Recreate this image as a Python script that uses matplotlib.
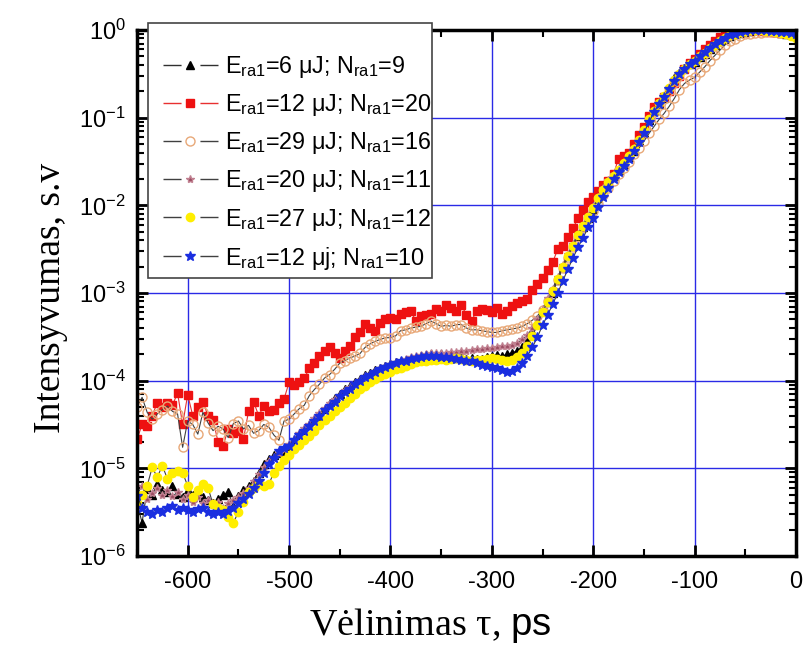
import numpy as np
import matplotlib
matplotlib.use("Agg")
import matplotlib.pyplot as plt
from matplotlib.patches import Rectangle
from matplotlib.ticker import MultipleLocator, LogLocator, NullFormatter

plt.rcParams["font.family"] = ["Liberation Sans", "DejaVu Sans"]
plt.rcParams["mathtext.fontset"] = "custom"
plt.rcParams["mathtext.rm"] = "Liberation Sans"
plt.rcParams["mathtext.it"] = "Liberation Sans:italic"
plt.rcParams["mathtext.bf"] = "Liberation Sans:bold"
plt.rcParams["axes.unicode_minus"] = False

# delay grid, ps (5 ps step)
delay = np.arange(-650, 1, 5)

# log10 of intensity
log_e6_n9 = [
    -5.39, -5.62, -5.24, -5.30, -5.18, -5.25, -5.27, -5.20, -5.29, -5.33,
    -5.25, -5.30, -5.28, -5.33, -5.36, -5.39, -5.35, -5.30, -5.27, -5.43,
    -5.31, -5.25, -5.20, -5.14, -5.05, -4.95, -4.89, -4.85, -4.82, -4.80,
    -4.75, -4.68, -4.62, -4.56, -4.51, -4.45, -4.40, -4.32, -4.25, -4.20,
    -4.15, -4.10, -4.06, -4.02, -3.98, -3.94, -3.91, -3.88, -3.85, -3.83,
    -3.81, -3.79, -3.77, -3.76, -3.75, -3.74, -3.72, -3.71, -3.70, -3.71,
    -3.70, -3.72, -3.72, -3.74, -3.73, -3.75, -3.74, -3.75, -3.75, -3.73,
    -3.72, -3.71, -3.72, -3.70, -3.68, -3.66, -3.62, -3.55, -3.45, -3.33,
    -3.20, -3.10, -3.00, -2.85, -2.70, -2.58, -2.45, -2.35, -2.25, -2.14,
    -2.04, -1.92, -1.80, -1.72, -1.66, -1.60, -1.53, -1.45, -1.38, -1.27,
    -1.17, -1.03, -0.92, -0.84, -0.77, -0.66, -0.55, -0.49, -0.43, -0.39,
    -0.36, -0.31, -0.27, -0.22, -0.17, -0.13, -0.10, -0.07, -0.05, -0.03,
    -0.02, -0.01, 0.00, 0.00, -0.01, -0.01, -0.02, -0.03, -0.05, -0.05,
    -0.06,
]

log_e12_n20 = [
    -4.67, -4.50, -4.52, -4.40, -4.25, -4.30, -4.25, -4.28, -4.14, -4.50,
    -4.16, -4.40, -4.30, -4.24, -4.40, -4.45, -4.70, -4.74, -4.55, -4.60,
    -4.57, -4.67, -4.35, -4.24, -4.40, -4.29, -4.35, -4.33, -4.25, -4.21,
    -4.02, -4.05, -4.02, -3.97, -3.86, -3.80, -3.72, -3.66, -3.62, -3.68,
    -3.74, -3.66, -3.60, -3.50, -3.45, -3.35, -3.40, -3.43, -3.34, -3.30,
    -3.28, -3.30, -3.24, -3.22, -3.20, -3.32, -3.26, -3.25, -3.24, -3.18,
    -3.20, -3.14, -3.17, -3.20, -3.14, -3.25, -3.32, -3.20, -3.18, -3.19,
    -3.22, -3.17, -3.24, -3.21, -3.15, -3.11, -3.09, -3.07, -2.97, -2.90,
    -2.83, -2.74, -2.65, -2.50, -2.46, -2.36, -2.26, -2.15, -2.05, -1.96,
    -1.90, -1.84, -1.77, -1.72, -1.64, -1.47, -1.44, -1.40, -1.30, -1.20,
    -1.11, -0.98, -0.88, -0.82, -0.76, -0.70, -0.60, -0.52, -0.45, -0.38,
    -0.33, -0.27, -0.22, -0.17, -0.12, -0.08, -0.05, -0.03, -0.01, 0.00,
    0.00, 0.00, 0.00, -0.01, -0.01, -0.02, -0.02, -0.03, -0.03, -0.04,
    -0.05,
]

log_e29_n16 = [
    -4.30, -4.19, -4.36, -4.44, -4.38, -4.33, -4.29, -4.35, -4.38, -4.76,
    -4.46, -4.50, -4.61, -4.36, -4.48, -4.57, -4.52, -4.55, -4.65, -4.49,
    -4.46, -4.55, -4.51, -4.60, -4.57, -4.50, -4.53, -4.62, -4.68, -4.46,
    -4.44, -4.38, -4.32, -4.28, -4.17, -4.10, -4.04, -3.97, -3.93, -3.87,
    -3.80, -3.77, -3.74, -3.72, -3.69, -3.62, -3.58, -3.55, -3.53, -3.51,
    -3.51, -3.49, -3.43, -3.42, -3.40, -3.39, -3.38, -3.35, -3.32, -3.35,
    -3.38, -3.37, -3.38, -3.36, -3.36, -3.40, -3.42, -3.42, -3.43, -3.44,
    -3.45, -3.45, -3.43, -3.42, -3.41, -3.40, -3.38, -3.35, -3.31, -3.26,
    -3.19, -3.09, -2.98, -2.85, -2.72, -2.60, -2.48, -2.36, -2.25, -2.14,
    -2.07, -1.98, -1.88, -1.80, -1.72, -1.64, -1.57, -1.50, -1.42, -1.35,
    -1.27, -1.18, -1.10, -1.02, -0.95, -0.87, -0.78, -0.68, -0.61, -0.57,
    -0.54, -0.48, -0.42, -0.35, -0.29, -0.23, -0.17, -0.13, -0.10, -0.07,
    -0.05, -0.04, -0.03, -0.03, -0.02, -0.02, -0.02, -0.03, -0.03, -0.04,
    -0.04,
]

log_e20_n11 = [
    -5.30, -5.20, -5.35, -5.28, -5.22, -5.30, -5.25, -5.32, -5.27, -5.35,
    -5.30, -5.38, -5.33, -5.40, -5.36, -5.42, -5.38, -5.45, -5.40, -5.36,
    -5.33, -5.28, -5.22, -5.15, -5.06, -4.98, -4.92, -4.87, -4.83, -4.78,
    -4.72, -4.66, -4.60, -4.54, -4.49, -4.43, -4.37, -4.31, -4.26, -4.21,
    -4.16, -4.11, -4.07, -4.03, -3.99, -3.95, -3.92, -3.89, -3.86, -3.83,
    -3.81, -3.79, -3.77, -3.75, -3.73, -3.72, -3.71, -3.70, -3.69, -3.69,
    -3.68, -3.68, -3.67, -3.67, -3.66, -3.66, -3.65, -3.64, -3.64, -3.63,
    -3.63, -3.62, -3.61, -3.60, -3.59, -3.57, -3.53, -3.48, -3.40, -3.30,
    -3.18, -3.06, -2.95, -2.82, -2.68, -2.56, -2.44, -2.33, -2.22, -2.12,
    -2.02, -1.91, -1.80, -1.71, -1.64, -1.57, -1.50, -1.43, -1.35, -1.25,
    -1.15, -1.04, -0.94, -0.85, -0.77, -0.68, -0.59, -0.51, -0.45, -0.40,
    -0.36, -0.31, -0.27, -0.22, -0.18, -0.14, -0.10, -0.07, -0.05, -0.03,
    -0.02, -0.01, 0.00, 0.00, -0.01, -0.01, -0.02, -0.02, -0.03, -0.04,
    -0.04,
]

log_e27_n12 = [
    -5.39, -5.30, -5.20, -4.99, -5.10, -4.97, -5.12, -5.05, -5.03, -5.05,
    -5.20, -5.33, -5.25, -5.18, -5.22, -5.41, -5.45, -5.48, -5.55, -5.62,
    -5.50, -5.38, -5.27, -5.22, -5.18, -5.20, -5.18, -5.05, -4.97, -4.90,
    -4.85, -4.78, -4.73, -4.68, -4.63, -4.57, -4.51, -4.45, -4.40, -4.35,
    -4.30, -4.25, -4.20, -4.15, -4.10, -4.06, -4.02, -3.98, -3.95, -3.92,
    -3.90, -3.87, -3.85, -3.83, -3.81, -3.79, -3.78, -3.77, -3.76, -3.76,
    -3.75, -3.76, -3.75, -3.74, -3.75, -3.76, -3.77, -3.76, -3.76, -3.75,
    -3.74, -3.75, -3.76, -3.78, -3.76, -3.73, -3.68, -3.60, -3.49, -3.36,
    -3.22, -3.10, -2.98, -2.84, -2.70, -2.58, -2.46, -2.34, -2.24, -2.13,
    -2.03, -1.92, -1.82, -1.73, -1.66, -1.60, -1.52, -1.44, -1.36, -1.26,
    -1.14, -1.02, -0.92, -0.83, -0.75, -0.66, -0.57, -0.50, -0.44, -0.39,
    -0.35, -0.30, -0.26, -0.21, -0.17, -0.13, -0.09, -0.06, -0.04, -0.02,
    -0.01, 0.00, 0.00, 0.00, -0.01, -0.01, -0.02, -0.03, -0.05, -0.07,
    -0.09,
]

log_e12_n10 = [
    -5.31, -5.45, -5.50, -5.52, -5.48, -5.50, -5.45, -5.43, -5.47, -5.45,
    -5.48, -5.50, -5.46, -5.45, -5.50, -5.52, -5.50, -5.52, -5.49, -5.45,
    -5.40, -5.35, -5.29, -5.22, -5.14, -5.05, -4.95, -4.88, -4.80, -4.77,
    -4.75, -4.68, -4.62, -4.57, -4.52, -4.46, -4.40, -4.34, -4.29, -4.24,
    -4.18, -4.13, -4.09, -4.04, -4.00, -3.96, -3.93, -3.90, -3.87, -3.84,
    -3.82, -3.80, -3.78, -3.77, -3.75, -3.74, -3.73, -3.72, -3.72, -3.72,
    -3.73, -3.73, -3.74, -3.75, -3.76, -3.77, -3.78, -3.80, -3.82, -3.83,
    -3.84, -3.86, -3.88, -3.90, -3.89, -3.86, -3.80, -3.72, -3.62, -3.50,
    -3.37, -3.25, -3.13, -3.00, -2.86, -2.73, -2.60, -2.48, -2.37, -2.25,
    -2.14, -2.02, -1.90, -1.80, -1.70, -1.62, -1.55, -1.47, -1.38, -1.28,
    -1.17, -1.05, -0.94, -0.84, -0.76, -0.67, -0.58, -0.50, -0.44, -0.39,
    -0.35, -0.30, -0.25, -0.20, -0.16, -0.12, -0.09, -0.06, -0.04, -0.02,
    -0.01, 0.00, 0.00, 0.00, 0.00, -0.01, -0.01, -0.02, -0.02, -0.03,
    -0.04,
]

labels = [
    r"E$_{\rm ra1}$=6 μJ; N$_{\rm ra1}$=9",
    r"E$_{\rm ra1}$=12 μJ; N$_{\rm ra1}$=20",
    r"E$_{\rm ra1}$=29 μJ; N$_{\rm ra1}$=16",
    r"E$_{\rm ra1}$=20 μJ; N$_{\rm ra1}$=11",
    r"E$_{\rm ra1}$=27 μJ; N$_{\rm ra1}$=12",
    r"E$_{\rm ra1}$=12 μj; N$_{\rm ra1}$=10",
]

series = [log_e6_n9, log_e12_n20, log_e29_n16, log_e20_n11, log_e27_n12, log_e12_n10]

styles = [
    dict(marker="^", color="#303030", mfc="black", mec="black", ms=6),
    dict(marker="s", color="#e83030", mfc="#ee1111", mec="#ee1111", ms=5.5),
    dict(marker="o", color="#404040", mfc="none", mec="#e8a878", ms=6.5, mew=1.0),
    dict(marker="*", color="#404040", mfc="#9a4a60", mec="#c08090", ms=6),
    dict(marker="o", color="#404040", mfc="#ffee00", mec="#ffee00", ms=6),
    dict(marker="*", color="#404040", mfc="#1a2ee0", mec="#1a2ee0", ms=7),
]

fig = plt.figure(figsize=(8.12, 6.61), dpi=100)
ax = fig.add_axes([137 / 812, 1 - 556 / 661, (796 - 137) / 812, (556 - 30) / 661])

for vals, lab, st in zip(series, labels, styles):
    ax.plot(delay, 10 ** np.array(vals), lw=0.8, ls="-", label=lab, **st)

ax.set_yscale("log")
ax.set_xlim(-650, 0)
ax.set_ylim(1e-6, 1)

ax.xaxis.set_major_locator(MultipleLocator(100))
ax.xaxis.set_minor_locator(MultipleLocator(50))
ax.yaxis.set_major_locator(LogLocator(base=10, numticks=10))
ax.yaxis.set_minor_locator(LogLocator(base=10, subs=np.arange(2, 10), numticks=10))
ax.yaxis.set_minor_formatter(NullFormatter())

ax.grid(True, which="major", color="#2a2ae6", lw=1.0)
ax.set_axisbelow(True)

ax.tick_params(which="both", direction="in", top=True, right=True)
ax.tick_params(which="major", length=8, width=2, labelsize=17)
ax.tick_params(axis="x", which="major", pad=11)
ax.tick_params(axis="y", which="major", pad=8)
ax.tick_params(which="minor", length=5, width=1.5)
for sp in ax.spines.values():
    sp.set_linewidth(2.5)

ax.set_ylabel("Intensyvumas, s.v", family="Liberation Serif", fontsize=27)
ax.yaxis.set_label_coords(-0.105, 0.49)
fig.text(430 / 812, 1 - 635 / 661, r"Vėlinimas τ, $\rm ps$", family="Liberation Serif",
         fontsize=27.5, ha="center", va="baseline")

# legend frame (box is taller than the entries, as in the original)
frame = Rectangle((148 / 812, 1 - 278 / 661), 284 / 812, 255 / 661, transform=fig.transFigure,
                  facecolor="white", edgecolor="#444444", lw=1.2, zorder=4, clip_on=False)
ax.add_artist(frame)

leg = ax.legend(loc="upper left", bbox_to_anchor=(163 / 812, 1 - 54 / 661),
                bbox_transform=fig.transFigure, borderaxespad=0, borderpad=0,
                fontsize=16.8, handlelength=2.35, labelspacing=0.52,
                handletextpad=0.3, frameon=False)
leg.set_zorder(5)
for ln in leg.get_lines():
    ln.set_linewidth(1.0)
    ln.set_linestyle((0, (13, 13.6)))

fig.savefig("out.png", dpi=100)
